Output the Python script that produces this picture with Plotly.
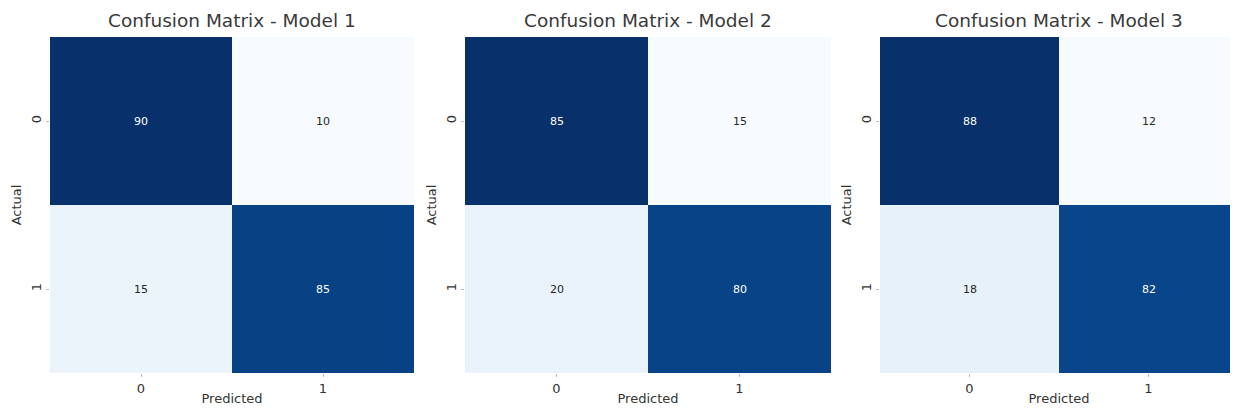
import plotly.graph_objects as go

models = ["Model 1", "Model 2", "Model 3"]
labels = ["0", "1"]
cm_model1 = [[90, 10], [15, 85]]
cm_model2 = [[85, 15], [20, 80]]
cm_model3 = [[88, 12], [18, 82]]
matrices = [cm_model1, cm_model2, cm_model3]

blues = [
    [0.0, "#f7fbff"], [0.125, "#deebf7"], [0.25, "#c6dbef"], [0.375, "#9ecae1"],
    [0.5, "#6baed6"], [0.625, "#4292c6"], [0.75, "#2171b5"], [0.875, "#08519c"],
    [1.0, "#08306b"],
]

# page body has an 8px margin; size the figure so it fits the 1238x414 window
W, H = 1230, 398
domains_px = [(42, 406), (457, 823), (872, 1230)]
FONT = "DejaVu Sans, Verdana, sans-serif"

fig = go.Figure()
annotations = []
for i, (name, cm) in enumerate(zip(models, matrices)):
    k = "" if i == 0 else str(i + 1)
    vmin = min(min(r) for r in cm)
    vmax = max(max(r) for r in cm)
    fig.add_trace(go.Heatmap(
        z=cm, x=[0, 1], y=[0, 1], colorscale=blues, zmin=vmin, zmax=vmax,
        showscale=False, xgap=0, ygap=0, hoverinfo="z",
        xaxis="x" + k, yaxis="y" + k,
    ))
    for r in range(2):
        for c in range(2):
            v = cm[r][c]
            frac = (v - vmin) / (vmax - vmin)
            annotations.append(dict(
                x=c, y=r, xref="x" + k, yref="y" + k, text=str(v), showarrow=False,
                font=dict(size=11, color="#ffffff" if frac > 0.5 else "#262626", family=FONT),
            ))
    x0, x1 = domains_px[i]
    annotations.append(dict(
        x=(x0 + x1) / 2 / W, y=1, xref="paper", yref="paper", xanchor="center",
        yanchor="bottom", yshift=4, text="Confusion Matrix - " + name, showarrow=False,
        font=dict(size=18.5, color="#3a3a3a", family=FONT),
    ))
    fig.update_layout(**{
        "xaxis" + k: dict(
            domain=[x0 / W, x1 / W], anchor="y" + k, tickvals=[0, 1], ticktext=labels,
            range=[-0.5, 1.5], showgrid=False, zeroline=False, ticks="outside",
            ticklen=3, tickcolor="#bbbbbb", tickfont=dict(size=13, color="#333333"),
            automargin=False,
            title=dict(text="Predicted", font=dict(size=13, color="#333333"), standoff=2),
        ),
        "yaxis" + k: dict(
            anchor="x" + k, tickvals=[0, 1], ticktext=labels, range=[1.5, -0.5],
            showgrid=False, zeroline=False, ticks="outside", ticklen=3,
            tickcolor="#bbbbbb", tickangle=-90, automargin=False,
            tickfont=dict(size=13, color="#333333"),
            title=dict(text="Actual", font=dict(size=13, color="#333333"), standoff=4),
        ),
    })

fig.update_layout(
    width=W, height=H, margin=dict(l=0, r=0, t=29, b=33),
    paper_bgcolor="white", plot_bgcolor="white",
    font=dict(family=FONT), annotations=annotations, showlegend=False,
)
fig.write_html("out.html")
